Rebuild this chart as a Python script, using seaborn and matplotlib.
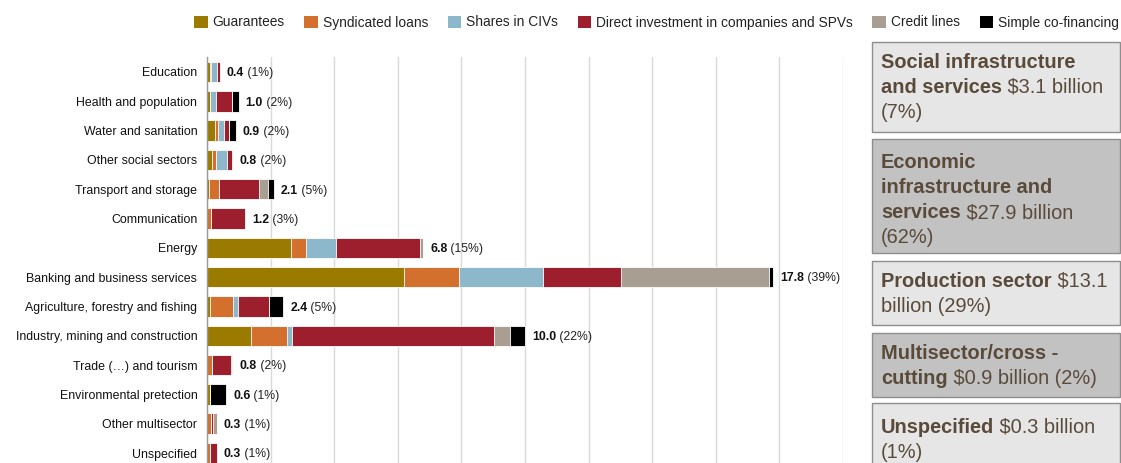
import numpy as np
import pandas as pd
import matplotlib
matplotlib.use("Agg")
import matplotlib.pyplot as plt
import seaborn as sns
from matplotlib.patches import Patch, Rectangle

# ---- data (USD billion) ----
sectors = [
    "Education", "Health and population", "Water and sanitation",
    "Other social sectors", "Transport and storage", "Communication",
    "Energy", "Banking and business services",
    "Agriculture, forestry and fishing", "Industry, mining and construction",
    "Trade (…) and tourism", "Environmental pretection",
    "Other multisector", "Unspecified",
]
guarantees = [0.09, 0.10, 0.25, 0.16, 0.05, 0.00, 2.63, 6.20, 0.08, 1.37, 0.00, 0.10, 0.00, 0.00]
syndicated = [0.04, 0.00, 0.09, 0.12, 0.34, 0.13, 0.47, 1.74, 0.73, 1.13, 0.17, 0.00, 0.12, 0.09]
civs       = [0.17, 0.18, 0.20, 0.35, 0.00, 0.00, 0.96, 2.63, 0.15, 0.18, 0.00, 0.00, 0.00, 0.00]
direct     = [0.10, 0.50, 0.16, 0.17, 1.26, 1.07, 2.64, 2.46, 0.98, 6.36, 0.58, 0.00, 0.06, 0.21]
credit     = [0.00, 0.00, 0.00, 0.00, 0.27, 0.00, 0.10, 4.63, 0.00, 0.49, 0.05, 0.00, 0.12, 0.00]
cofin      = [0.00, 0.22, 0.20, 0.00, 0.18, 0.00, 0.00, 0.14, 0.46, 0.47, 0.00, 0.50, 0.00, 0.00]
totals     = [0.4, 1.0, 0.9, 0.8, 2.1, 1.2, 6.8, 17.8, 2.4, 10.0, 0.8, 0.6, 0.3, 0.3]
shares     = [1, 2, 2, 2, 5, 3, 15, 39, 5, 22, 2, 1, 1, 1]

series_names = ["Guarantees", "Syndicated loans", "Shares in CIVs",
                "Direct investment in companies and SPVs", "Credit lines",
                "Simple co-financing"]
series_colors = ["#9a7b00", "#d3702d", "#8db8cb", "#9d1f2d", "#a89f92", "#000000"]

group_names   = ["Social infrastructure and services",
                 "Economic infrastructure and services",
                 "Production sector", "Multisector/cross - cutting",
                 "Unspecified"]
group_amounts = [3.1, 27.9, 13.1, 0.9, 0.3]
group_shares  = [7, 62, 29, 2, 1]

# ---- styling ----
W, H, DPI = 1121, 463, 100
sns.set_theme(style="white")
plt.rcParams["font.family"] = ["Liberation Sans", "DejaVu Sans"]

fig = plt.figure(figsize=(W / DPI, H / DPI), dpi=DPI)
ax = fig.add_axes([207 / W, 0, 636 / W, 406 / H])

# stacked bars: draw cumulative totals from the outermost layer inwards
layers = np.array([guarantees, syndicated, civs, direct, credit, cofin])
cum = np.cumsum(layers, axis=0)
for k in range(len(layers) - 1, -1, -1):
    df = pd.DataFrame({"sector": sectors, "value": cum[k]})
    sns.barplot(data=df, x="value", y="sector", order=sectors,
                color=series_colors[k], saturation=1, orient="h",
                width=0.7, edgecolor="white", linewidth=0.6,
                errorbar=None, ax=ax)

ax.set_xlim(0, 20)
ax.set_ylim(len(sectors) - 0.66, -0.51)
ax.set_xticks(np.arange(0, 21, 2))
ax.xaxis.grid(True, color="#d9d9d9", linewidth=1)
ax.yaxis.grid(False)
ax.set_axisbelow(True)
ax.set_xlabel("")
ax.set_ylabel("")
ax.tick_params(axis="x", length=0, labelbottom=False)
ax.tick_params(axis="y", length=0, pad=7, labelsize=8.95, labelcolor="#111111")
for side in ["top", "right", "bottom"]:
    ax.spines[side].set_visible(False)
ax.spines["left"].set_color("#9a9a9a")
ax.spines["left"].set_linewidth(1)

# value labels: bold total followed by share in parentheses
renderer = fig.canvas.get_renderer()
for i, (tot, sh) in enumerate(zip(totals, shares)):
    t1 = ax.annotate(f"{tot:.1f}", xy=(tot, i), xytext=(5, -3.1),
                     textcoords="offset points", ha="left", va="baseline",
                     fontsize=8.8, fontweight="bold", color="#111111")
    w = t1.get_window_extent(renderer).width * 72 / DPI
    ax.annotate(f" ({sh}%)", xy=(tot, i), xytext=(5 + w, -3.1),
                textcoords="offset points", ha="left", va="baseline",
                fontsize=8.8, color="#222222")

# legend across the top
handles = [Patch(facecolor=c, edgecolor="none") for c in series_colors]
fig.legend(handles, series_names, loc="center right",
           bbox_to_anchor=(1119 / W, 1 - 22.5 / H), ncol=6, frameon=False,
           fontsize=9.9, handlelength=1.0, handleheight=1.0,
           handletextpad=0.35, columnspacing=1.42, borderaxespad=0,
           borderpad=0, labelcolor="#222222")

# summary boxes on the right
box_bounds = [(42, 132), (139, 253), (261, 325), (333, 397), (403, 472)]
box_fills = ["#e6e6e6", "#c2c2c2", "#e6e6e6", "#c2c2c2", "#e6e6e6"]
first_baselines = [68, 168, 287, 359, 433]
line_gap = 25
txt_color = "#5a4a3a"
box_fs = 14.4

a, p = group_amounts, group_shares
box_lines = [
    [[("Social infrastructure", True)],
     [("and services", True), (f" ${a[0]} billion", False)],
     [(f"({p[0]}%)", False)]],
    [[("Economic", True)],
     [("infrastructure and", True)],
     [("services", True), (f" ${a[1]} billion", False)],
     [(f"({p[1]}%)", False)]],
    [[("Production sector", True), (f" ${a[2]}", False)],
     [(f"billion ({p[2]}%)", False)]],
    [[("Multisector/cross -", True)],
     [("cutting", True), (f" ${a[3]} billion ({p[3]}%)", False)]],
    [[("Unspecified", True), (f" ${a[4]} billion", False)],
     [(f"({p[4]}%)", False)]],
]

for (top, bot), fill, base, lines in zip(box_bounds, box_fills,
                                         first_baselines, box_lines):
    fig.add_artist(Rectangle((872 / W, 1 - bot / H), 248 / W, (bot - top) / H,
                             transform=fig.transFigure, facecolor=fill,
                             edgecolor="#8e8e8e", linewidth=1))
    for li, segs in enumerate(lines):
        x = 881.0
        y = base + li * line_gap
        for s, bold in segs:
            t = fig.text(x / W, 1 - y / H, s, ha="left", va="baseline",
                         fontsize=box_fs, color=txt_color,
                         fontweight="bold" if bold else "normal")
            x += t.get_window_extent(renderer).width

fig.savefig("out.png", dpi=DPI)
